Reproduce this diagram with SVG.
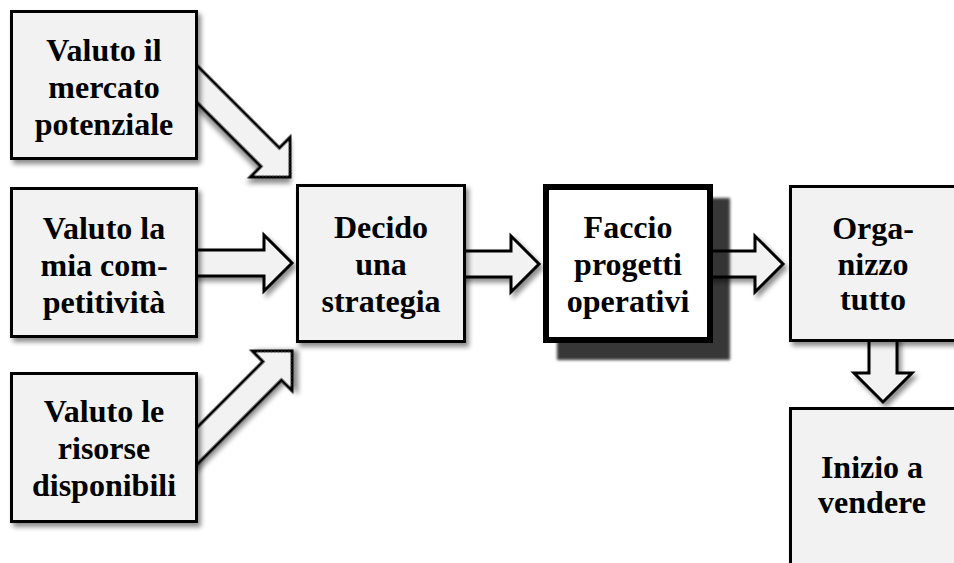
<svg xmlns="http://www.w3.org/2000/svg" width="954" height="563" viewBox="0 0 954 563">
<style>
.box{fill:#f2f2f2;stroke:#000;stroke-width:3;filter:url(#sh)}
.main{fill:#fff;stroke:#000;stroke-width:6}
.arr{fill:#f2f2f2;stroke:#000;stroke-width:3;stroke-linejoin:miter;filter:url(#sh)}
text{font-family:"Liberation Serif","Times New Roman",serif;font-weight:bold;font-size:32px;text-anchor:middle;fill:#000}
</style>
<defs>
<filter id="sh" x="-20%" y="-20%" width="150%" height="150%">
<feGaussianBlur in="SourceAlpha" stdDeviation="2.5"/>
<feOffset dx="3" dy="4" result="b"/>
<feComponentTransfer><feFuncA type="linear" slope="0.45"/></feComponentTransfer>
<feMerge><feMergeNode/><feMergeNode in="SourceGraphic"/></feMerge>
</filter>
<filter id="dk" x="-20%" y="-20%" width="150%" height="150%">
<feGaussianBlur stdDeviation="1.5"/>
</filter>
<path id="ah" d="M -170 -13 L -28 -13 L -28 -28 L 0 0 L -28 28 L -28 13 L -170 13 Z"/>
</defs>
<g id="connectors">
<use href="#ah" class="arr" transform="translate(290,177) rotate(45)"/>
<use href="#ah" class="arr" transform="translate(292,263)"/>
<use href="#ah" class="arr" transform="translate(292,351) rotate(-45)"/>
<use href="#ah" class="arr" transform="translate(539,264)"/>
<use href="#ah" class="arr" transform="translate(783,264)"/>
<path class="arr" d="M 869 330 L 897 330 L 897 373 L 912 373 L 883 402 L 854 373 L 869 373 Z"/>
</g>
<g id="n1">
<rect class="box" x="11.5" y="11.5" width="185" height="147"/>
<text x="104" y="61">Valuto il</text>
<text x="104" y="98">mercato</text>
<text x="104" y="135">potenziale</text>
</g>
<g id="n2">
<rect class="box" x="11.5" y="188.5" width="185" height="148"/>
<text x="104" y="239">Valuto la</text>
<text x="104" y="276">mia com-</text>
<text x="104" y="313">petitività</text>
</g>
<g id="n3">
<rect class="box" x="11.5" y="373.5" width="185" height="148"/>
<text x="104" y="422">Valuto le</text>
<text x="104" y="459">risorse</text>
<text x="104" y="496">disponibili</text>
</g>
<g id="n4">
<rect class="box" x="297.5" y="185.5" width="167" height="156"/>
<text x="381" y="238">Decido</text>
<text x="381" y="275">una</text>
<text x="381" y="312">strategia</text>
</g>
<g id="n5">
<rect x="557" y="198" width="173" height="162" fill="#000" opacity="0.78" filter="url(#dk)"/>
<rect class="main" x="546" y="187" width="164" height="153"/>
<text x="628" y="238">Faccio</text>
<text x="628" y="275">progetti</text>
<text x="628" y="312">operativi</text>
</g>
<g id="n6">
<rect class="box" x="790.5" y="186.5" width="167" height="154"/>
<text x="873" y="239">Orga-</text>
<text x="873" y="275">nizzo</text>
<text x="873" y="310">tutto</text>
</g>
<g id="n7">
<rect class="box" x="790.5" y="408.5" width="167" height="157"/>
<text x="872" y="478">Inizio a</text>
<text x="872" y="513">vendere</text>
</g>
</svg>
